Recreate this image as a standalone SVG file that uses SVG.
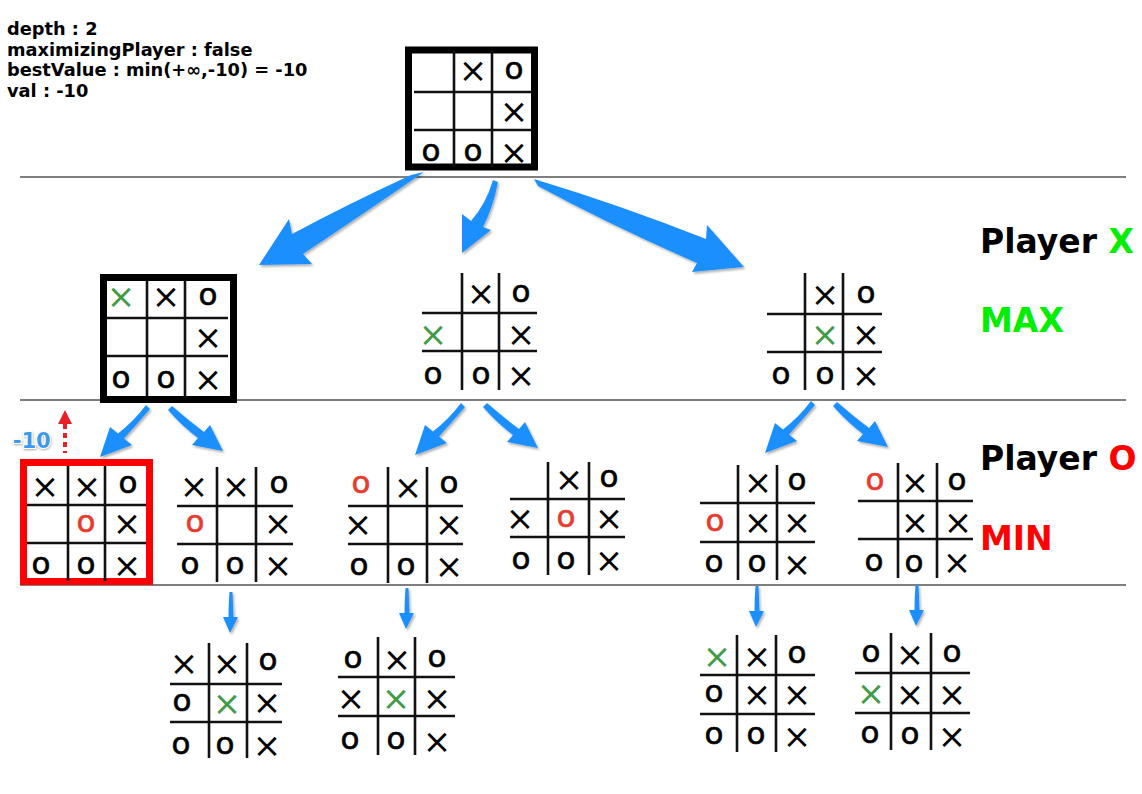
<svg xmlns="http://www.w3.org/2000/svg" width="1142" height="794" viewBox="0 0 1142 794">
<defs>
  <filter id="shadow" x="-20%" y="-20%" width="140%" height="140%">
    <feDropShadow dx="1.5" dy="2" stdDeviation="1" flood-color="#000" flood-opacity="0.3"/>
  </filter>
  <filter id="glow" x="-30%" y="-30%" width="160%" height="160%">
    <feDropShadow dx="0.5" dy="1" stdDeviation="0.8" flood-color="#000" flood-opacity="0.35"/>
  </filter>
  <!-- tapered arrow shapes, drawn from the tail at (0,0) -->
  <path id="arrowL" d="M -2,-2 Q -14,14 -30,26.5 L -38,20 L -48,50 L -16,38 L -24,31.5 Q -10,16 2,2 Z"/>
  <path id="arrowR" d="M -2,2 Q 12,18 28,30 L 22,37 L 53,43 L 40,17 L 34,24 Q 18,12 2,-2 Z"/>
  <path id="arrowD" d="M -1.5,0 Q -2.5,12 -2.5,25 L -8,25 L -1,41 L 7,25 L 2.5,25 Q 2,12 1.5,0 Z"/>
</defs>
<style>
  .info { font-family: "DejaVu Sans", sans-serif; font-weight: bold; font-size: 17.8px; fill: #000; }
  .lbl { font-family: "DejaVu Sans", sans-serif; font-weight: bold; font-size: 33px; fill: #000; }
  .green { fill: #00ee00; }
  .red { fill: #ff0000; }
  .sep { stroke: #000; stroke-width: 1.2; }
  .gl { stroke: #111; stroke-width: 2.6; stroke-linecap: butt; }
  .x { font-family: "DejaVu Sans", sans-serif; font-size: 34px; text-anchor: middle; fill: #000; transform: translate(0px, 3.5px); }
  .xg { fill: #3f9b45; }
  .o { font-family: "DejaVu Sans", sans-serif; font-size: 31px; text-anchor: middle; fill: #000; stroke: #000; stroke-width: 0.6px; transform: translate(0px, 0.5px); }
  .or { fill: #e63b2e; stroke: #e63b2e; }
  .frame { fill: none; stroke: #000; stroke-width: 7; }
  .frameR { fill: none; stroke: #ff0000; stroke-width: 7; }
  .blue { fill: #1e8fff; filter: url(#shadow); }
</style>

<rect width="1142" height="794" fill="#fff"/>

<!-- state of the current call -->
<g id="info">
  <text class="info" x="7" y="35">depth : 2</text>
  <text class="info" x="7" y="55.5">maximizingPlayer : false</text>
  <text class="info" x="7" y="76">bestValue : min(+∞,-10) = -10</text>
  <text class="info" x="7" y="96.5">val : -10</text>
</g>

<!-- level separators -->
<g id="separators">
  <line class="sep" x1="20" y1="177" x2="1126" y2="177"/>
  <line class="sep" x1="20" y1="400" x2="1126" y2="400"/>
  <line class="sep" x1="20" y1="585" x2="1126" y2="585"/>
</g>

<!-- level labels -->
<g id="labels">
  <text class="lbl" x="980" y="253">Player <tspan class="green">X</tspan></text>
  <text class="lbl green" x="980" y="332">MAX</text>
  <text class="lbl" x="980" y="470">Player <tspan class="red">O</tspan></text>
  <text class="lbl red" x="980" y="550">MIN</text>
</g>

<!-- connectors -->
<g id="connectors">
  <path class="blue" d="M411,175 Q350,203 292,234 L289,219 L259,265 L312,264 L303,254 Q360,216 424,172 Z"/>
  <path class="blue" d="M493,180 Q486,204 471,221 L462,214 L462,253 L491,230 L483,227 Q493,208 498,182 Z"/>
  <path class="blue" d="M534,179 Q620,205 706,239 L707,225 L744,267 L692,272 L697,263 Q610,225 538,186 Z"/>
  <use href="#arrowL" class="blue" x="148" y="407"/>
  <use href="#arrowR" class="blue" x="170" y="408"/>
  <use href="#arrowL" class="blue" x="463" y="405"/>
  <use href="#arrowR" class="blue" x="485" y="405"/>
  <use href="#arrowL" class="blue" x="813" y="403"/>
  <use href="#arrowR" class="blue" x="835" y="404"/>
  <use href="#arrowD" class="blue" x="231" y="592"/>
  <use href="#arrowD" class="blue" x="407" y="588"/>
  <use href="#arrowD" class="blue" x="757" y="586"/>
  <use href="#arrowD" class="blue" x="917" y="585"/>
  <!-- value returned upward -->
  <g id="return-value">
    <polygon points="65,410 58,424 72,424" fill="#e8202a"/>
    <line x1="65" y1="424" x2="65" y2="453" stroke="#e8202a" stroke-width="4" stroke-dasharray="5,4"/>
    <text x="13" y="448" font-family="DejaVu Sans, sans-serif" font-weight="bold" font-size="21" fill="#3d98ee" stroke="#fff" stroke-width="2" paint-order="stroke" filter="url(#glow)">-10</text>
  </g>
</g>

<!-- root -->
<g id="root">
  <rect class="frame" x="408.5" y="50" width="126" height="117"/>
  <line class="gl" x1="454" y1="50" x2="454" y2="167"/>
  <line class="gl" x1="492" y1="50" x2="492" y2="167"/>
  <line class="gl" x1="414" y1="92" x2="531" y2="92"/>
  <line class="gl" x1="414" y1="130" x2="531" y2="130"/>
  <text class="x" x="473" y="78">×</text><text class="o" x="514" y="78">o</text>
  <text class="x" x="514" y="119">×</text>
  <text class="o" x="431" y="160">o</text><text class="o" x="473" y="160">o</text><text class="x" x="514" y="160">×</text>
</g>

<!-- MAX level -->
<g id="boardA">
  <rect class="frame" x="103.5" y="277.5" width="130" height="122"/>
  <line class="gl" x1="147" y1="281" x2="147" y2="396"/>
  <line class="gl" x1="185" y1="281" x2="185" y2="396"/>
  <line class="gl" x1="107" y1="318" x2="228" y2="318"/>
  <line class="gl" x1="107" y1="356" x2="228" y2="356"/>
  <text class="x xg" x="121" y="304">×</text><text class="x" x="166" y="304">×</text><text class="o" x="208" y="304">o</text>
  <text class="x" x="208" y="345">×</text>
  <text class="o" x="121" y="387">o</text><text class="o" x="166" y="387">o</text><text class="x" x="208" y="387">×</text>
</g>
<g id="boardB">
  <line class="gl" x1="462" y1="273" x2="462" y2="390"/>
  <line class="gl" x1="499" y1="273" x2="499" y2="390"/>
  <line class="gl" x1="422" y1="313" x2="537" y2="313"/>
  <line class="gl" x1="422" y1="351" x2="537" y2="351"/>
  <text class="x" x="481" y="301">×</text><text class="o" x="521" y="301">o</text>
  <text class="x xg" x="433" y="342">×</text><text class="x" x="521" y="342">×</text>
  <text class="o" x="433" y="383">o</text><text class="o" x="481" y="383">o</text><text class="x" x="521" y="383">×</text>
</g>
<g id="boardC">
  <line class="gl" x1="805" y1="273" x2="805" y2="390"/>
  <line class="gl" x1="843" y1="273" x2="843" y2="390"/>
  <line class="gl" x1="767" y1="314" x2="882" y2="314"/>
  <line class="gl" x1="767" y1="352" x2="882" y2="352"/>
  <text class="x" x="825" y="302">×</text><text class="o" x="866" y="302">o</text>
  <text class="x xg" x="825" y="342">×</text><text class="x" x="866" y="342">×</text>
  <text class="o" x="781" y="383">o</text><text class="o" x="825" y="383">o</text><text class="x" x="866" y="383">×</text>
</g>

<!-- MIN level -->
<g id="boardD">
  <rect class="frameR" x="23.5" y="462.5" width="126" height="119"/>
  <line class="gl" x1="68" y1="466" x2="68" y2="581"/>
  <line class="gl" x1="105" y1="466" x2="105" y2="581"/>
  <line class="gl" x1="27" y1="505" x2="146" y2="505"/>
  <line class="gl" x1="27" y1="543" x2="146" y2="543"/>
  <text class="x" x="45" y="494">×</text><text class="x" x="87" y="494">×</text><text class="o" x="128" y="492">o</text>
  <text class="o or" x="86" y="531">o</text><text class="x" x="127" y="531">×</text>
  <text class="o" x="41" y="573">o</text><text class="o" x="86" y="573">o</text><text class="x" x="127" y="573">×</text>
</g>
<g id="boardE">
  <line class="gl" x1="217" y1="467" x2="217" y2="582"/>
  <line class="gl" x1="256" y1="467" x2="256" y2="582"/>
  <line class="gl" x1="177" y1="506" x2="293" y2="506"/>
  <line class="gl" x1="177" y1="544" x2="293" y2="544"/>
  <text class="x" x="194" y="494">×</text><text class="x" x="236" y="494">×</text><text class="o" x="279" y="492">o</text>
  <text class="o or" x="195" y="531">o</text><text class="x" x="278" y="531">×</text>
  <text class="o" x="190" y="573">o</text><text class="o" x="235" y="573">o</text><text class="x" x="278" y="573">×</text>
</g>
<g id="boardF">
  <line class="gl" x1="388" y1="467" x2="388" y2="583"/>
  <line class="gl" x1="427" y1="467" x2="427" y2="583"/>
  <line class="gl" x1="348" y1="506" x2="463" y2="506"/>
  <line class="gl" x1="348" y1="544" x2="463" y2="544"/>
  <text class="o or" x="361" y="492">o</text><text class="x" x="408" y="495">×</text><text class="o" x="449" y="492">o</text>
  <text class="x" x="358" y="532">×</text><text class="x" x="449" y="532">×</text>
  <text class="o" x="359" y="574">o</text><text class="o" x="406" y="574">o</text><text class="x" x="449" y="574">×</text>
</g>
<g id="boardG">
  <line class="gl" x1="548" y1="462" x2="548" y2="575"/>
  <line class="gl" x1="589" y1="462" x2="589" y2="575"/>
  <line class="gl" x1="510" y1="499" x2="625" y2="499"/>
  <line class="gl" x1="510" y1="537" x2="625" y2="537"/>
  <text class="x" x="569" y="487">×</text><text class="o" x="609" y="486">o</text>
  <text class="x" x="520" y="526">×</text><text class="o or" x="566" y="526">o</text><text class="x" x="609" y="526">×</text>
  <text class="o" x="521" y="568">o</text><text class="o" x="566" y="568">o</text><text class="x" x="609" y="568">×</text>
</g>
<g id="boardH">
  <line class="gl" x1="738" y1="465" x2="738" y2="580"/>
  <line class="gl" x1="777" y1="465" x2="777" y2="580"/>
  <line class="gl" x1="700" y1="503" x2="815" y2="503"/>
  <line class="gl" x1="700" y1="542" x2="815" y2="542"/>
  <text class="x" x="758" y="490">×</text><text class="o" x="797" y="489">o</text>
  <text class="o or" x="715" y="530">o</text><text class="x" x="758" y="530">×</text><text class="x" x="797" y="530">×</text>
  <text class="o" x="714" y="571">o</text><text class="o" x="757" y="571">o</text><text class="x" x="797" y="572">×</text>
</g>
<g id="boardI">
  <line class="gl" x1="898" y1="463" x2="898" y2="578"/>
  <line class="gl" x1="937" y1="463" x2="937" y2="578"/>
  <line class="gl" x1="858" y1="501" x2="973" y2="501"/>
  <line class="gl" x1="858" y1="539" x2="973" y2="539"/>
  <text class="o or" x="875" y="489">o</text><text class="x" x="915" y="490">×</text><text class="o" x="957" y="489">o</text>
  <text class="x" x="915" y="530">×</text><text class="x" x="958" y="530">×</text>
  <text class="o" x="874" y="570">o</text><text class="o" x="914" y="571">o</text><text class="x" x="957" y="570">×</text>
</g>

<!-- terminal level -->
<g id="boardJ">
  <line class="gl" x1="209" y1="643" x2="209" y2="758"/>
  <line class="gl" x1="247" y1="643" x2="247" y2="758"/>
  <line class="gl" x1="170" y1="684" x2="282" y2="684"/>
  <line class="gl" x1="170" y1="722" x2="282" y2="722"/>
  <text class="x" x="184" y="671">×</text><text class="x" x="227" y="671">×</text><text class="o" x="268" y="669">o</text>
  <text class="o" x="182" y="710">o</text><text class="x xg" x="227" y="711">×</text><text class="x" x="267" y="710">×</text>
  <text class="o" x="181" y="753">o</text><text class="o" x="225" y="753">o</text><text class="x" x="267" y="753">×</text>
</g>
<g id="boardK">
  <line class="gl" x1="378" y1="637" x2="378" y2="755"/>
  <line class="gl" x1="415" y1="637" x2="415" y2="755"/>
  <line class="gl" x1="338" y1="677" x2="455" y2="677"/>
  <line class="gl" x1="338" y1="716" x2="455" y2="716"/>
  <text class="o" x="353" y="667">o</text><text class="x" x="397" y="667">×</text><text class="o" x="437" y="666">o</text>
  <text class="x" x="351" y="706">×</text><text class="x xg" x="396" y="706">×</text><text class="x" x="437" y="706">×</text>
  <text class="o" x="350" y="748">o</text><text class="o" x="396" y="748">o</text><text class="x" x="437" y="749">×</text>
</g>
<g id="boardL">
  <line class="gl" x1="737" y1="635" x2="737" y2="752"/>
  <line class="gl" x1="776" y1="635" x2="776" y2="752"/>
  <line class="gl" x1="700" y1="675" x2="815" y2="675"/>
  <line class="gl" x1="700" y1="714" x2="815" y2="714"/>
  <text class="x xg" x="717" y="664">×</text><text class="x" x="757" y="664">×</text><text class="o" x="797" y="662">o</text>
  <text class="o" x="714" y="701">o</text><text class="x" x="757" y="702">×</text><text class="x" x="797" y="702">×</text>
  <text class="o" x="714" y="743">o</text><text class="o" x="756" y="743">o</text><text class="x" x="797" y="744">×</text>
</g>
<g id="boardM">
  <line class="gl" x1="891" y1="633" x2="891" y2="750"/>
  <line class="gl" x1="931" y1="633" x2="931" y2="750"/>
  <line class="gl" x1="855" y1="673" x2="970" y2="673"/>
  <line class="gl" x1="855" y1="713" x2="970" y2="713"/>
  <text class="o" x="871" y="661">o</text><text class="x" x="910" y="662">×</text><text class="o" x="952" y="661">o</text>
  <text class="x xg" x="871" y="701">×</text><text class="x" x="910" y="702">×</text><text class="x" x="952" y="702">×</text>
  <text class="o" x="870" y="742">o</text><text class="o" x="910" y="743">o</text><text class="x" x="952" y="744">×</text>
</g>
</svg>
